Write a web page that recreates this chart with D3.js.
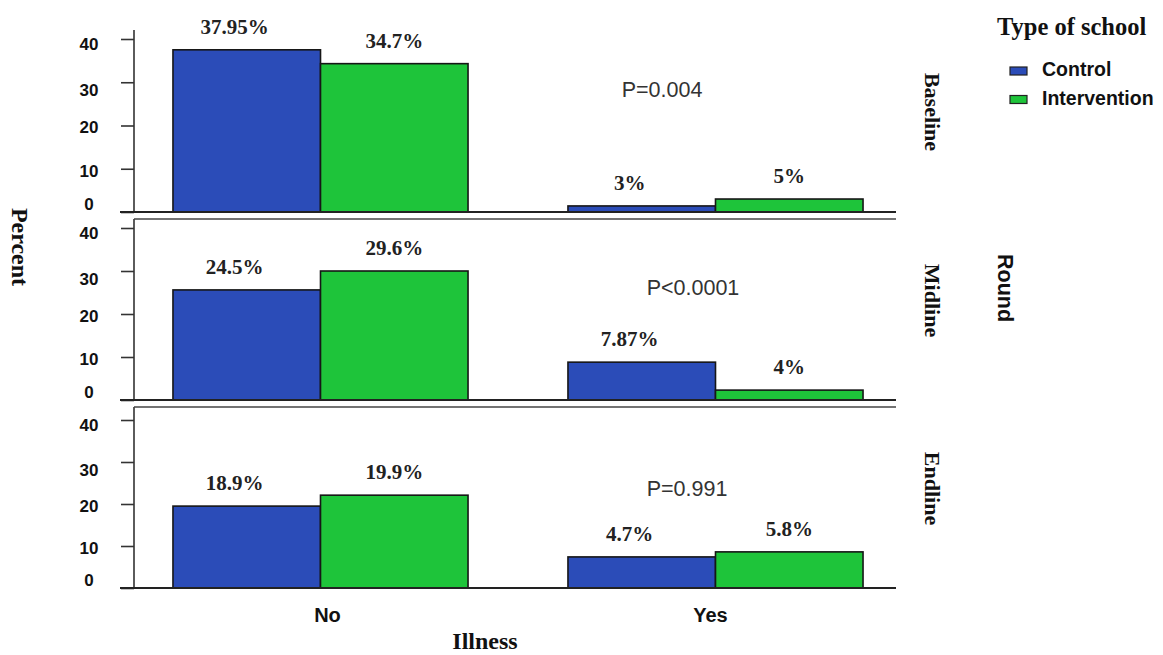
<!DOCTYPE html>
<html>
<head>
<meta charset="utf-8">
<script src="https://cdn.jsdelivr.net/npm/d3@7"></script>
<style>
  html, body { margin: 0; padding: 0; background: #fff; }
  svg { display: block; }
</style>
</head>
<body>
<svg id="chart" width="1163" height="655"></svg>
<script>
// ---------- data ----------
const rounds = ["Baseline", "Midline", "Endline"];
const illness = ["No", "Yes"];
const schoolTypes = ["Control", "Intervention"];
const yTicks = [0, 10, 20, 30, 40];

// bar heights: [No-Control, No-Intervention, Yes-Control, Yes-Intervention]
const baselineValues = [37.5, 34.3, 1.4, 3.0];
const midlineValues  = [25.6, 30.0, 8.8, 2.3];
const endlineValues  = [19.5, 22.1, 7.4, 8.6];

// printed labels
const baselineLabels = ["37.95%", "34.7%", "3%", "5%"];
const midlineLabels  = ["24.5%", "29.6%", "7.87%", "4%"];
const endlineLabels  = ["18.9%", "19.9%", "4.7%", "5.8%"];

const pValues = ["P=0.004", "P<0.0001", "P=0.991"];

// ---------- layout ----------
const layout = {
  axisX: 134, lineLeft: 120, lineRight: 896,
  xRange: [139, 897],
  panelTop:  [30, 219, 407],
  panelZero: [212, 400, 588],
  panelForty:[39, 228, 420],
  pPos: [[662, 97], [693, 295], [687, 496]],
  tickLabelShift: { 0: -8, 10: 2, 20: 2, 30: 8, 40: 5 }
};
const colors = { Control: "#2b4cb8", Intervention: "#1ec43a" };
const serif = "'Liberation Serif', 'Times New Roman', serif";
const sans = "'Liberation Sans', Arial, sans-serif";

const valuesByRound = [baselineValues, midlineValues, endlineValues];
const labelsByRound = [baselineLabels, midlineLabels, endlineLabels];

const svg = d3.select("#chart");

const x0 = d3.scaleBand().domain(illness).range(layout.xRange)
  .paddingInner(0.253).paddingOuter(0.086);
const x1 = d3.scaleBand().domain(schoolTypes).range([0, x0.bandwidth()]).padding(0);

rounds.forEach((round, r) => {
  const y = d3.scaleLinear().domain([0, 40])
    .range([layout.panelZero[r], layout.panelForty[r]]);
  const g = svg.append("g");

  const rows = [];
  illness.forEach((ill, i) => schoolTypes.forEach((s, j) => {
    rows.push({ ill, s, v: valuesByRound[r][i * 2 + j], label: labelsByRound[r][i * 2 + j] });
  }));

  // bars
  g.selectAll("rect.bar").data(rows).enter().append("rect")
    .attr("class", "bar")
    .attr("x", d => x0(d.ill) + x1(d.s))
    .attr("width", x1.bandwidth())
    .attr("y", d => y(d.v))
    .attr("height", d => y(0) - y(d.v))
    .attr("fill", d => colors[d.s])
    .attr("stroke", "#161616")
    .attr("stroke-width", 1.6);

  // bar labels
  g.selectAll("text.lab").data(rows).enter().append("text")
    .attr("class", "lab")
    .attr("x", d => x0(d.ill) + x1(d.s) + x1.bandwidth() / 2 + (d.s === "Control" ? -12 : 0))
    .attr("y", d => y(d.v) - 16)
    .attr("text-anchor", "middle")
    .attr("font-family", serif).attr("font-weight", "bold")
    .attr("font-size", 21).attr("fill", "#222")
    .text(d => d.label);

  // y axis
  const axis = d3.axisLeft(y).tickValues(yTicks).tickSize(13).tickSizeOuter(0);
  const ag = g.append("g").attr("transform", `translate(${layout.axisX},0)`).call(axis);
  ag.select(".domain").remove();
  ag.selectAll(".tick line").attr("stroke", "#333").attr("stroke-width", 1.6);
  ag.selectAll(".tick text")
    .attr("x", -45).attr("text-anchor", "middle")
    .attr("y", d => layout.tickLabelShift[d])
    .attr("font-family", sans).attr("font-weight", "bold")
    .attr("font-size", 17).attr("fill", "#111");

  // axis line
  g.append("line")
    .attr("x1", layout.axisX).attr("x2", layout.axisX)
    .attr("y1", layout.panelTop[r]).attr("y2", y(0))
    .attr("stroke", "#333").attr("stroke-width", 1.6);
  // baseline
  g.append("line")
    .attr("x1", layout.lineLeft).attr("x2", layout.lineRight)
    .attr("y1", y(0)).attr("y2", y(0))
    .attr("stroke", "#222").attr("stroke-width", 1.8);
  // panel top border
  if (r > 0) {
    g.append("line")
      .attr("x1", layout.axisX).attr("x2", layout.lineRight)
      .attr("y1", layout.panelTop[r]).attr("y2", layout.panelTop[r])
      .attr("stroke", "#444").attr("stroke-width", 1.6);
  }

  // p value
  g.append("text")
    .attr("x", layout.pPos[r][0]).attr("y", layout.pPos[r][1])
    .attr("text-anchor", "middle")
    .attr("font-family", sans).attr("font-size", 21.5).attr("fill", "#333")
    .text(pValues[r]);

  // facet strip label
  const cy = (layout.panelTop[r] + layout.panelZero[r]) / 2 - 9;
  g.append("text")
    .attr("transform", `translate(925,${cy}) rotate(90)`)
    .attr("text-anchor", "middle")
    .attr("font-family", serif).attr("font-weight", "bold")
    .attr("font-size", 22).attr("fill", "#111")
    .text(round);
});

// x category labels
svg.selectAll("text.xcat").data(illness).enter().append("text")
  .attr("class", "xcat")
  .attr("x", d => x0(d) + x0.bandwidth() / 2 + (d === "No" ? 7 : -5))
  .attr("y", 622)
  .attr("text-anchor", "middle")
  .attr("font-family", sans).attr("font-weight", "bold")
  .attr("font-size", 20).attr("fill", "#111")
  .text(d => d);

// axis titles
svg.append("text")
  .attr("x", 485).attr("y", 649)
  .attr("text-anchor", "middle")
  .attr("font-family", serif).attr("font-weight", "bold")
  .attr("font-size", 24).attr("fill", "#111")
  .text("Illness");

svg.append("text")
  .attr("transform", "translate(12,247) rotate(90)")
  .attr("text-anchor", "middle")
  .attr("font-family", serif).attr("font-weight", "bold")
  .attr("font-size", 24).attr("fill", "#111")
  .text("Percent");

svg.append("text")
  .attr("transform", "translate(998,288) rotate(90)")
  .attr("text-anchor", "middle")
  .attr("font-family", sans).attr("font-weight", "bold")
  .attr("font-size", 21.5).attr("fill", "#111")
  .text("Round");

// legend
svg.append("text")
  .attr("x", 997).attr("y", 35)
  .attr("font-family", serif).attr("font-weight", "bold")
  .attr("font-size", 24.5).attr("fill", "#111")
  .text("Type of school");

const leg = svg.selectAll("g.leg").data(schoolTypes).enter().append("g")
  .attr("class", "leg")
  .attr("transform", (d, i) => `translate(1010,${67 + i * 28.5})`);
leg.append("rect")
  .attr("width", 17).attr("height", 8)
  .attr("fill", d => colors[d])
  .attr("stroke", "#222").attr("stroke-width", 1.2);
leg.append("text")
  .attr("x", 32).attr("y", 9)
  .attr("font-family", sans).attr("font-weight", "bold")
  .attr("font-size", 19.5).attr("fill", "#111")
  .text(d => d);
</script>
</body>
</html>
